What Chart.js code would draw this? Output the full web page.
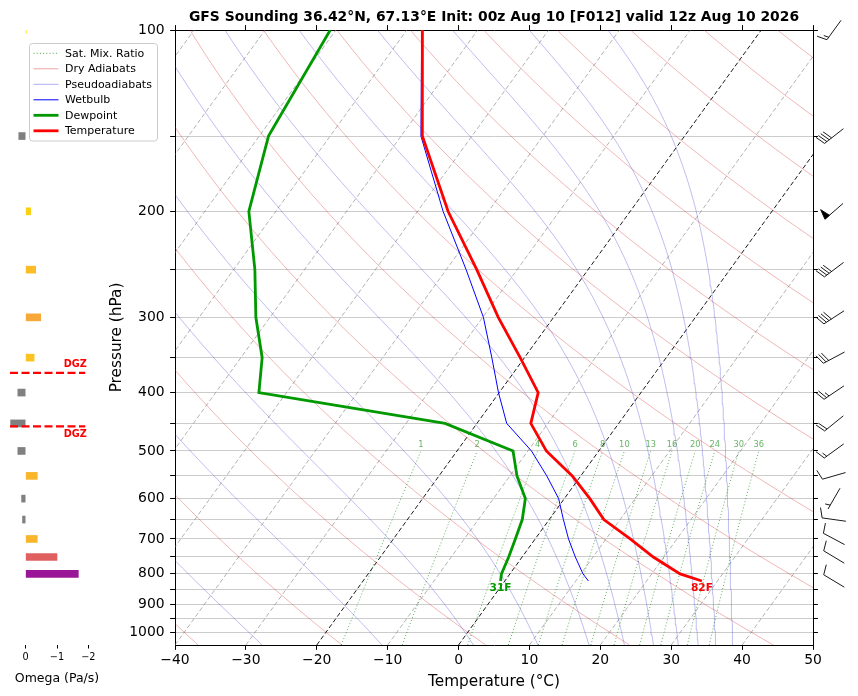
<!DOCTYPE html>
<html>
<head>
<meta charset="utf-8">
<script src="https://cdn.jsdelivr.net/npm/chart.js@4.4.1/dist/chart.umd.min.js"></script>
<style>
  html, body { margin: 0; padding: 0; background: #fff; }
  #wrap { position: relative; width: 858px; height: 696px; }
  #skewt, #omega { position: absolute; left: 0; top: 0; }
</style>
</head>
<body>
<div id="wrap">
  <canvas id="skewt" width="858" height="696"></canvas>
  <canvas id="omega" width="175" height="696"></canvas>
</div>
<script>
// sounding profile, hPa and degC
const levels      = [100, 150, 200, 250, 300, 350, 400, 450, 500, 550, 600, 650, 700, 750, 800, 822];
const temperature = [-67.8, -57.0, -45.7, -35.7, -27.8, -20.6, -14.5, -12.4, -7.4, -1.2, 3.6, 7.7, 13.4, 18.5, 24.0, 27.8];
const dewpoint    = [-80.8, -78.7, -73.8, -67.0, -62.0, -57.0, -53.9, -24.5, -12.1, -9.0, -5.5, -3.8, -2.8, -1.9, -1.2, -0.6];
const wetbulb     = [-67.9, -57.2, -46.4, -37.2, -29.9, -24.6, -20.1, -15.8, -9.5, -4.8, -0.8, 2.0, 4.7, 7.5, 10.3, 11.8];

// winds: speed in kt, direction the wind blows from
const windLevels = [100, 150, 200, 250, 300, 350, 400, 450, 500, 550, 600, 650, 700, 750, 822];
const windSpeed  = [15, 40, 50, 40, 40, 30, 25, 20, 15, 10, 5, 10, 10, 10, 10];
const windDir    = [216, 232, 229, 233, 237, 242, 236, 231, 234, 254, 210, 278, 298, 301, 301];

// omega, Pa/s
const omegaLevels = [100, 150, 200, 250, 300, 350, 400, 450, 500, 550, 600, 650, 700, 750, 800];
const omegaValues = [-0.02, 0.22, -0.16, -0.32, -0.48, -0.27, 0.25, 0.48, 0.25, -0.37, 0.13, 0.10, -0.37, -1.0, -1.68];

const dgzLevels = [371, 455];

// background lines
const mixingRatios = [1, 2, 4, 6, 8, 10, 13, 16, 20, 24, 30, 36];            // g/kg
const dryAdiabatT0 = [-40, -20, 0, 20, 40, 60, 80, 100, 120, 140, 160, 180, 200, 220]; // degC at 1000 hPa
const moistAdiabatBase = [-27.7, -10.8, 2.1, 11.2, 18.4, 23.4, 27.5, 31.0, 33.8, 36.3, 38.7]; // degC at 1050 hPa
const isotherms = [-110, -100, -90, -80, -70, -60, -50, -40, -30, -20, -10, 0, 10, 20, 30, 40, 50];
const darkIsotherms = [-20, 0];

const pressureTicks = [100, 150, 200, 250, 300, 350, 400, 450, 500, 550, 600, 650, 700, 750, 800, 850, 900, 950, 1000];
const tempTicks = [-40, -30, -20, -10, 0, 10, 20, 30, 40, 50];
const omegaTicks = [0, -1, -2];

const TITLE = 'GFS Sounding 36.42°N, 67.13°E Init: 00z Aug 10 [F012] valid 12z Aug 10 2026';
const FONT = '"DejaVu Sans", "Liberation Sans", sans-serif';

const P_BOTTOM = 1050, P_TOP = 100;
const SKEW = 61.4; // degC of skew per decade of pressure

const RED = '#ff0000', GREEN = '#009900', BLUE = '#0000ff';
const DRY_COLOR = 'rgba(214,39,40,0.42)';
const MOIST_COLOR = 'rgba(60,60,210,0.42)';
const MIX_COLOR = 'rgba(0,128,0,0.7)';
const ISO_COLOR = 'rgba(128,128,128,0.75)';

function skewX(t, p) { return t + SKEW * Math.log10(P_BOTTOM / p); }
function minus(v) { return v < 0 ? '\u2212' + Math.abs(v) : String(v); }

const samplePressures = [];
for (let i = 0; i <= 60; i++) samplePressures.push(P_BOTTOM * Math.pow(P_TOP / P_BOTTOM, i / 60));

function dryLine(t0) {
  return samplePressures.map(p => ({ x: skewX((t0 + 273.15) * Math.pow(p / 1000, 0.2857) - 273.15, p), y: p }));
}

function moistLapse(p, T) {
  const Rd = 287.04, Lv = 2.501e6, cp = 1005.7, eps = 0.622;
  const tc = T - 273.15;
  const es = 6.112 * Math.exp(17.67 * tc / (tc + 243.5));
  const rs = eps * es / (p - es);
  return (Rd * T + Lv * rs) / (cp + Lv * Lv * rs * eps / (Rd * T * T)) / p;
}

function moistLine(tBase) {
  let T = tBase + 273.15, p = P_BOTTOM;
  const pts = [{ x: skewX(tBase, p), y: p }];
  const n = 120, r = Math.pow(P_TOP / P_BOTTOM, 1 / n);
  for (let i = 0; i < n; i++) {
    const p2 = p * r, h = p2 - p;
    const k1 = moistLapse(p, T);
    const k2 = moistLapse(p + h / 2, T + h / 2 * k1);
    const k3 = moistLapse(p + h / 2, T + h / 2 * k2);
    const k4 = moistLapse(p2, T + h * k3);
    T += h / 6 * (k1 + 2 * k2 + 2 * k3 + k4);
    p = p2;
    pts.push({ x: skewX(T - 273.15, p), y: p });
  }
  return pts;
}

function mixDewpoint(w, p) {
  const e = (w / 1000) * p / (0.622 + w / 1000);
  const l = Math.log(e / 6.112);
  return 243.5 * l / (17.67 - l);
}

function mixLine(w) {
  const pts = [];
  for (let i = 0; i <= 12; i++) {
    const p = P_BOTTOM * Math.pow(500 / P_BOTTOM, i / 12);
    pts.push({ x: skewX(mixDewpoint(w, p), p), y: p });
  }
  return pts;
}

function profile(values) {
  return levels.map((p, i) => ({ x: skewX(values[i], p), y: p }));
}

const lineBase = { showLine: true, pointRadius: 0, fill: false, tension: 0, xAxisID: 'x', yAxisID: 'y' };

const datasets = [
  { ...lineBase, label: 'Temperature', data: profile(temperature), borderColor: RED, borderWidth: 2.8 },
  { ...lineBase, label: 'Dewpoint', data: profile(dewpoint), borderColor: GREEN, borderWidth: 2.8 },
  { ...lineBase, label: 'Wetbulb', data: profile(wetbulb), borderColor: BLUE, borderWidth: 1 }
];
mixingRatios.forEach(w => datasets.push({ ...lineBase, data: mixLine(w), borderColor: MIX_COLOR, borderWidth: 0.9, borderDash: [1, 2.2] }));
dryAdiabatT0.forEach(t => datasets.push({ ...lineBase, data: dryLine(t), borderColor: DRY_COLOR, borderWidth: 0.8 }));
moistAdiabatBase.forEach(t => datasets.push({ ...lineBase, data: moistLine(t), borderColor: MOIST_COLOR, borderWidth: 0.8 }));
isotherms.forEach(t => {
  const dark = darkIsotherms.includes(t);
  datasets.push({ ...lineBase, data: [{ x: skewX(t, P_BOTTOM), y: P_BOTTOM }, { x: skewX(t, P_TOP), y: P_TOP }],
    borderColor: dark ? '#000' : ISO_COLOR, borderWidth: dark ? 0.9 : 0.8, borderDash: [4.5, 2.5] });
});

const legendItems = [
  { label: 'Sat. Mix. Ratio', color: MIX_COLOR, width: 1, dash: [1, 2.2] },
  { label: 'Dry Adiabats', color: DRY_COLOR, width: 1, dash: [] },
  { label: 'Pseudoadiabats', color: MOIST_COLOR, width: 1, dash: [] },
  { label: 'Wetbulb', color: BLUE, width: 1, dash: [] },
  { label: 'Dewpoint', color: GREEN, width: 2.8, dash: [] },
  { label: 'Temperature', color: RED, width: 2.8, dash: [] }
];

// barb centred on (cx, cy); feathers sit at the upwind end
function drawBarb(ctx, cx, cy, spd, dir) {
  const L = 24, h = 10, fw = 6, sp = 3;
  const rad = dir * Math.PI / 180;
  const ux = Math.sin(rad), uy = -Math.cos(rad);   // towards the wind source
  const dx = -ux, dy = -uy;                         // along the staff
  const px = Math.cos(rad), py = Math.sin(rad);     // feather side
  const ax = cx + ux * L / 2, ay = cy + uy * L / 2;
  const at = s => [ax + dx * s, ay + dy * s];
  ctx.beginPath();
  ctx.moveTo(ax, ay);
  ctx.lineTo(ax + dx * L, ay + dy * L);
  ctx.stroke();
  let rest = Math.round(spd / 5) * 5;
  const flags = Math.floor(rest / 50); rest -= flags * 50;
  const barbs = Math.floor(rest / 10); rest -= barbs * 10;
  const half = rest >= 5;
  let s = 0;
  for (let i = 0; i < flags; i++) {
    if (s > 0) s += sp / 2;
    const [bx, by] = at(s), [mx, my] = at(s + fw / 2), [ex, ey] = at(s + fw);
    ctx.beginPath();
    ctx.moveTo(bx, by);
    ctx.lineTo(mx + px * h, my + py * h);
    ctx.lineTo(ex, ey);
    ctx.closePath();
    ctx.fill();
    ctx.stroke();
    s += fw + sp;
  }
  for (let i = 0; i < barbs; i++) {
    const [bx, by] = at(s);
    ctx.beginPath();
    ctx.moveTo(bx, by);
    ctx.lineTo(bx + px * h + ux * fw / 2, by + py * h + uy * fw / 2);
    ctx.stroke();
    s += sp;
  }
  if (half) {
    if (s === 0) s += 1.5 * sp;
    const [bx, by] = at(s);
    ctx.beginPath();
    ctx.moveTo(bx, by);
    ctx.lineTo(bx + px * h / 2 + ux * fw / 4, by + py * h / 2 + uy * fw / 4);
    ctx.stroke();
  }
}

const decorPlugin = {
  id: 'decor',
  afterDraw(chart) {
    const { ctx, chartArea, scales: { x, y } } = chart;
    ctx.save();

    // title
    ctx.fillStyle = '#000';
    ctx.font = 'bold 13.9px ' + FONT;
    ctx.textAlign = 'center';
    ctx.textBaseline = 'middle';
    ctx.fillText(TITLE, (chartArea.left + chartArea.right) / 2, 17);

    // mixing ratio labels
    ctx.font = '8.3px ' + FONT;
    ctx.fillStyle = 'rgba(0,128,0,0.6)';
    ctx.textBaseline = 'bottom';
    const y500 = y.getPixelForValue(500);
    mixingRatios.forEach(w => {
      ctx.fillText(String(w), x.getPixelForValue(skewX(mixDewpoint(w, 500), 500)), y500 - 1.5);
    });

    // surface labels
    const n = levels.length - 1;
    const ys = y.getPixelForValue(levels[n]);
    ctx.font = 'bold 10.6px ' + FONT;
    ctx.textBaseline = 'middle';
    ctx.fillStyle = RED;
    ctx.fillText(Math.round(temperature[n] * 9 / 5 + 32) + 'F', x.getPixelForValue(skewX(temperature[n], levels[n])), ys + 7.5);
    ctx.fillStyle = GREEN;
    ctx.fillText(Math.round(dewpoint[n] * 9 / 5 + 32) + 'F', x.getPixelForValue(skewX(dewpoint[n], levels[n])), ys + 7.5);

    // wind barbs
    ctx.strokeStyle = '#000';
    ctx.fillStyle = '#000';
    ctx.lineWidth = 0.9;
    windLevels.forEach((p, i) => drawBarb(ctx, chartArea.right + 21, y.getPixelForValue(p), windSpeed[i], windDir[i]));

    // legend
    ctx.beginPath();
    ctx.roundRect(29.5, 43.5, 128, 97.5, 3);
    ctx.fillStyle = 'rgba(255,255,255,0.85)';
    ctx.fill();
    ctx.strokeStyle = '#cccccc';
    ctx.lineWidth = 1;
    ctx.stroke();
    ctx.font = '11px ' + FONT;
    ctx.textAlign = 'left';
    ctx.textBaseline = 'middle';
    legendItems.forEach((item, i) => {
      const ly = 53.3 + i * 15.5;
      ctx.beginPath();
      ctx.setLineDash(item.dash);
      ctx.strokeStyle = item.color;
      ctx.lineWidth = item.width;
      ctx.moveTo(33.5, ly);
      ctx.lineTo(58.5, ly);
      ctx.stroke();
      ctx.setLineDash([]);
      ctx.fillStyle = '#000';
      ctx.fillText(item.label, 65, ly + 0.5);
    });
    ctx.restore();
  }
};

const tickFont = { family: FONT, size: 13.9 };
const blankTicks = { callback: () => '', font: tickFont };
const edge = { display: true, color: '#000', width: 1 };
const outerGrid = { drawOnChartArea: false, drawTicks: true, tickLength: 4.9, tickColor: '#000', tickWidth: 1 };

new Chart(document.getElementById('skewt'), {
  type: 'scatter',
  data: { datasets: datasets },
  options: {
    responsive: false,
    animation: false,
    events: [],
    layout: { padding: 0 },
    plugins: { legend: { display: false }, tooltip: { enabled: false }, title: { display: false } },
    scales: {
      x: {
        type: 'linear', position: 'bottom', min: -40, max: 50,
        afterBuildTicks: s => { s.ticks = tempTicks.map(v => ({ value: v })); },
        afterFit: s => { s.height = 51; },
        ticks: { color: '#000', font: tickFont, padding: 2, maxRotation: 0, autoSkip: false, callback: v => minus(v) },
        grid: outerGrid, border: edge,
        title: { display: true, text: 'Temperature (°C)', color: '#000', font: { family: FONT, size: 15.3 }, padding: { top: 0, bottom: 4.8 } }
      },
      xTop: {
        type: 'linear', position: 'top', min: -40, max: 50,
        afterBuildTicks: s => { s.ticks = tempTicks.map(v => ({ value: v })); },
        afterFit: s => { s.height = 30; },
        ticks: blankTicks, grid: outerGrid, border: edge
      },
      y: {
        type: 'logarithmic', position: 'left', min: P_TOP, max: P_BOTTOM, reverse: true,
        afterBuildTicks: s => { s.ticks = pressureTicks.map(v => ({ value: v })); },
        afterFit: s => { s.width = 175; },
        ticks: { color: '#000', font: tickFont, padding: 5.5, autoSkip: false, callback: v => (v % 100 === 0 ? String(v) : '') },
        grid: { color: '#cccccc', lineWidth: 1, drawTicks: true, tickLength: 4.9, tickColor: '#000', tickWidth: 1 },
        border: edge,
        title: { display: true, text: 'Pressure (hPa)', color: '#000', font: { family: FONT, size: 15.3 }, padding: { top: 107.8, bottom: 0 } }
      },
      yRight: {
        type: 'logarithmic', position: 'right', min: P_TOP, max: P_BOTTOM, reverse: true,
        afterBuildTicks: s => { s.ticks = pressureTicks.map(v => ({ value: v })); },
        afterFit: s => { s.width = 45; },
        ticks: blankTicks, grid: outerGrid, border: edge
      }
    }
  },
  plugins: [decorPlugin]
});

// omega panel
function omegaColor(v) {
  if (v > 0) return '#808080';
  const stops = [[0, [255, 230, 0]], [-0.5, [248, 165, 58]], [-1.0, [224, 96, 96]], [-1.7, [152, 20, 152]]];
  for (let i = 0; i < stops.length - 1; i++) {
    const [v0, c0] = stops[i], [v1, c1] = stops[i + 1];
    if (v >= v1 || i === stops.length - 2) {
      const f = Math.min(1, (v - v0) / (v1 - v0));
      return 'rgb(' + c0.map((c, k) => Math.round(c + (c1[k] - c) * f)).join(',') + ')';
    }
  }
}

const dgzPlugin = {
  id: 'dgz',
  afterDatasetsDraw(chart) {
    const { ctx, chartArea, scales: { y } } = chart;
    const x0 = chartArea.left, x1 = chartArea.left + 0.8 * (chartArea.right - chartArea.left);
    ctx.save();
    ctx.strokeStyle = RED;
    ctx.fillStyle = RED;
    ctx.lineWidth = 2.2;
    ctx.setLineDash([8, 3.5]);
    ctx.font = 'bold 9.7px ' + FONT;
    ctx.textAlign = 'right';
    dgzLevels.forEach((p, i) => {
      const py = y.getPixelForValue(p);
      ctx.beginPath();
      ctx.moveTo(x0, py);
      ctx.lineTo(x1, py);
      ctx.stroke();
      ctx.textBaseline = i === 0 ? 'bottom' : 'top';
      ctx.fillText('DGZ', x1 + 1.5, i === 0 ? py - 3.5 : py + 3.5);
    });
    ctx.restore();
  }
};

new Chart(document.getElementById('omega'), {
  type: 'bar',
  data: {
    datasets: [{
      data: omegaLevels.map((p, i) => ({ x: omegaValues[i], y: p })),
      backgroundColor: omegaValues.map(omegaColor),
      borderWidth: 0,
      barThickness: 7
    }]
  },
  options: {
    indexAxis: 'y',
    responsive: false,
    animation: false,
    events: [],
    layout: { padding: { left: 10, right: 71, top: 30, bottom: 0 } },
    plugins: { legend: { display: false }, tooltip: { enabled: false } },
    scales: {
      y: { type: 'logarithmic', min: P_TOP, max: P_BOTTOM, reverse: true, display: false },
      x: {
        type: 'linear', min: -2.5, max: 0.5, reverse: true,
        afterBuildTicks: s => { s.ticks = omegaTicks.map(v => ({ value: v })); },
        afterFit: s => { s.height = 51; },
        ticks: { color: '#000', font: { family: FONT, size: 9.7 }, padding: 3.5, maxRotation: 0, autoSkip: false, callback: v => minus(v) },
        grid: { drawOnChartArea: false, drawTicks: true, tickLength: 3.5, tickColor: '#000', tickWidth: 1 },
        border: { display: false },
        title: { display: true, text: 'Omega (Pa/s)', color: '#000', font: { family: FONT, size: 12.5 }, padding: { top: 0, bottom: 9.5 } }
      }
    }
  },
  plugins: [dgzPlugin]
});
</script>
</body>
</html>
